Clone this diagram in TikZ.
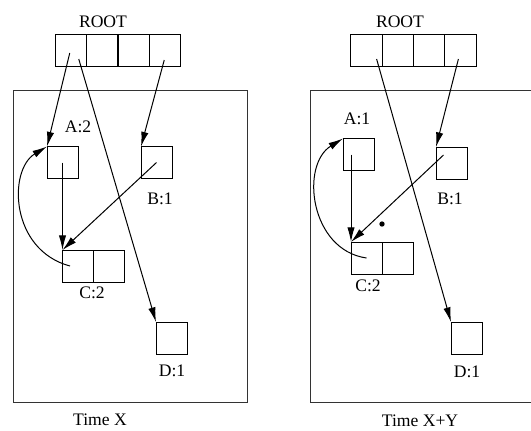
\documentclass[tikz,border=0pt]{standalone}
\usepackage{fontspec}
\setmainfont{Liberation Serif}
\usetikzlibrary{arrows.meta}
\begin{document}
\begin{tikzpicture}[x=0.75pt,y=-0.75pt,
  cell/.style={draw, line width=0.75pt, minimum width=23.25pt, minimum height=24pt, inner sep=0pt, outer sep=0pt},
  lbl/.style={font=\fontsize{13.2}{15}\selectfont, inner sep=0pt},
  ptr/.style={line width=0.75pt, -{Latex[length=11pt,width=5.5pt]}},
  frame/.style={line width=0.75pt, draw=black!80}]
\useasboundingbox (0,0) rectangle (531,430);
\clip (0,0) rectangle (531,430);
% ---------------- Left panel: Time X ----------------
\node[lbl] (rootL) at (103,22) {ROOT};
\node[cell, minimum width=23.6pt] (l1) at (70.75,50) {};
\node[cell, minimum width=23.6pt] (l2) at (102.25,50) {};
\node[cell, minimum width=23.6pt] (l3) at (133.75,50) {};
\node[cell, minimum width=23.6pt] (l4) at (165.25,50) {};
\draw[frame] (13,90) rectangle (247,402);
\node[cell] (lA) at (62.5,162.5) {};
\node[cell] (lB) at (156.5,162.5) {};
\node[cell] (lC1) at (78,266) {};
\node[cell] (lC2) at (109,266) {};
\node[cell] (lD) at (171.5,338) {};
\node[lbl] (lAl) at (78,127) {A:2};
\node[lbl] (lBl) at (160,199) {B:1};
\node[lbl] (lCl) at (92,293) {C:2};
\node[lbl] (lDl) at (172,371) {D:1};
\node[lbl] (lT) at (100,420) {Time X};
\draw[ptr] ([shift={(-1,3)}]l1.center) -- (lA.north west);
\draw[ptr] ([shift={(8,9)}]l1.center) -- (lD.north west);
\draw[ptr] ([shift={(-1,10)}]l4.center) -- (lB.north west);
\draw[ptr] (lC1.north west |- lA.center) -- (lC1.north west);
\draw[ptr] (lB.center) -- (lC1.north west);
\draw[ptr] ([shift={(-8,0)}]lC1.center) .. controls (10,250) and (8,170) .. (lA.north west);
% ---------------- Right panel: Time X+Y ----------------
\node[lbl] (rootR) at (400,22) {ROOT};
\node[cell, minimum width=23.45pt] (r1) at (366.6,50) {};
\node[cell, minimum width=23.45pt] (r2) at (397.9,50) {};
\node[cell, minimum width=23.45pt] (r3) at (429.1,50) {};
\node[cell, minimum width=23.45pt] (r4) at (460.4,50) {};
\draw[frame] (545,90) -- (310,90) -- (310,402) -- (545,402);
\node[cell] (rA) at (358.5,154.5) {};
\node[cell] (rB) at (451.5,163) {};
\node[cell] (rC1) at (366.5,258) {};
\node[cell] (rC2) at (397.5,258) {};
\node[cell] (rD) at (466.5,338) {};
\node[lbl] (rAl) at (357,119) {A:1};
\node[lbl] (rBl) at (450,199) {B:1};
\node[lbl] (rCl) at (368,286) {C:2};
\node[lbl] (rDl) at (467,372) {D:1};
\node[lbl] (rT) at (420,421) {Time X+Y};
\fill (382,224) circle (2pt);
\draw[ptr] ([shift={(10,9)}]r1.center) -- (rD.north west);
\draw[ptr] ([shift={(-2,9)}]r4.center) -- (rB.north west);
\draw[ptr] (rC1.north west |- rA.center) -- (rC1.north west);
\draw[ptr] ([shift={(-8,-8)}]rB.center) -- (rC1.north west);
\draw[ptr] (rC1.center) .. controls (310,250) and (300,165) .. (rA.north west);
\end{tikzpicture}
\end{document}
